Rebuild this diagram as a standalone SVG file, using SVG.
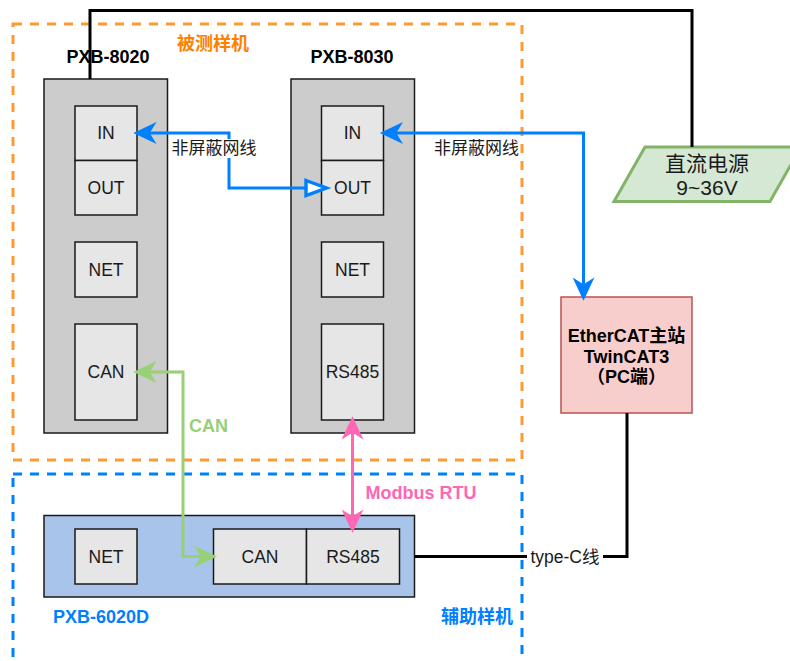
<svg xmlns="http://www.w3.org/2000/svg" width="790" height="661" viewBox="0 0 790 661">
<style>
text{font-family:"Liberation Sans","Noto Sans CJK SC",sans-serif;dominant-baseline:central}
.port{fill:#E6E6E6;stroke:#1a1a1a;stroke-width:1.5}
.pt{font-size:17.5px;text-anchor:middle;fill:#1a1a1a}
.dev{fill:#CCCCCC;stroke:#1a1a1a;stroke-width:1.5}
.bl{font-size:18px;font-weight:bold}
.c{text-anchor:middle}
.eth{fill:none;stroke:#007FFF;stroke-width:3}
.blk{fill:none;stroke:#000;stroke-width:3}
</style>
<defs>
<marker id="aBlue" markerUnits="userSpaceOnUse" markerWidth="30" markerHeight="30" viewBox="-10 -10 22 20" refX="0" refY="0" orient="auto-start-reverse"><path d="M10,0 L-7,-8 L-2,0 L-7,8 Z" fill="#007FFF"/></marker>
<marker id="aBlueOpen" markerUnits="userSpaceOnUse" markerWidth="30" markerHeight="30" viewBox="-3 -9 22 18" refX="0" refY="0" orient="auto"><path d="M0,-5.5 L15,0 L0,5.5 Z" fill="#fff" stroke="#007FFF" stroke-width="2.5"/></marker>
<marker id="aGreen" markerUnits="userSpaceOnUse" markerWidth="30" markerHeight="30" viewBox="-10 -10 22 20" refX="0" refY="0" orient="auto-start-reverse"><path d="M10,0 L-7,-8 L-2,0 L-7,8 Z" fill="#97D077"/></marker>
<marker id="aPink" markerUnits="userSpaceOnUse" markerWidth="30" markerHeight="30" viewBox="-10 -10 22 20" refX="0" refY="0" orient="auto-start-reverse"><path d="M10,0 L-7,-8 L-2,0 L-7,8 Z" fill="#FF66B3"/></marker>
</defs>

<g id="group-dut">
<rect x="13" y="24" width="509" height="436" fill="none" stroke="#FF9933" stroke-width="3" stroke-dasharray="9 8"/>
<text class="bl c" x="213" y="44" fill="#FF8000">被测样机</text>
</g>
<g id="group-aux">
<rect x="13" y="474" width="509" height="220" fill="none" stroke="#007FFF" stroke-width="3" stroke-dasharray="9 8"/>
<text class="bl" x="513" y="617" fill="#007FFF" text-anchor="end">辅助样机</text>
</g>

<g id="pxb8020">
<text class="bl c" x="108" y="57" fill="#000">PXB-8020</text>
<rect class="dev" x="44" y="79" width="123.5" height="354"/>
<rect class="port" x="75" y="106" width="62" height="54.5"/><text class="pt" x="106" y="133">IN</text>
<rect class="port" x="75" y="160.5" width="62" height="54.5"/><text class="pt" x="106" y="188">OUT</text>
<rect class="port" x="75" y="242" width="62" height="55"/><text class="pt" x="106" y="269.5">NET</text>
<rect class="port" x="75" y="324" width="62" height="96"/><text class="pt" x="106" y="372">CAN</text>
</g>

<g id="pxb8030">
<text class="bl c" x="352" y="57" fill="#000">PXB-8030</text>
<rect class="dev" x="291" y="79" width="123.5" height="354"/>
<rect class="port" x="321.5" y="106" width="62" height="54.5"/><text class="pt" x="352.5" y="133">IN</text>
<rect class="port" x="321.5" y="160.5" width="62" height="54.5"/><text class="pt" x="352.5" y="188">OUT</text>
<rect class="port" x="321.5" y="242" width="62" height="55"/><text class="pt" x="352.5" y="269.5">NET</text>
<rect class="port" x="321.5" y="324" width="62" height="96"/><text class="pt" x="352.5" y="372">RS485</text>
</g>

<g id="power">
<polygon points="645,147 801,147 770,201.5 614,201.5" fill="#D5E8D4" stroke="#82B366" stroke-width="3"/>
<text class="c" x="707" y="163" font-size="21" fill="#1a1a1a">直流电源</text>
<text class="c" x="707" y="187" font-size="21" fill="#1a1a1a">9~36V</text>
</g>

<g id="ethercat">
<rect x="561" y="297" width="131" height="116" fill="#F8CECC" stroke="#B85450" stroke-width="1.5"/>
<text class="bl c" x="626.5" y="336" fill="#000">EtherCAT主站</text>
<text class="bl c" x="626.5" y="356.5" fill="#000">TwinCAT3</text>
<text class="bl c" x="626.5" y="377" fill="#000">（PC端）</text>
</g>

<g id="pxb6020d">
<rect x="44" y="515.5" width="370.5" height="81.5" fill="#A9C4EB" stroke="#1a1a1a" stroke-width="1.5"/>
<rect class="port" x="75" y="529" width="62" height="55"/><text class="pt" x="106" y="556.5">NET</text>
<rect class="port" x="213.5" y="529" width="93" height="55"/><text class="pt" x="260" y="556.5">CAN</text>
<rect class="port" x="306.5" y="529" width="93" height="55"/><text class="pt" x="353" y="556.5">RS485</text>
<text class="bl" x="53" y="617" fill="#007FFF">PXB-6020D</text>
</g>

<g id="connectors">
<path class="blk" d="M90,79 V10.5 H692 V147"/>
<path class="eth" d="M147,133 H229 V188 H306" marker-start="url(#aBlue)" marker-end="url(#aBlueOpen)"/>
<rect x="171" y="139" width="86" height="19" fill="#fff"/>
<text x="214" y="148" font-size="17" class="c" fill="#1a1a1a">非屏蔽网线</text>
<path class="eth" d="M393.5,133 H583.5 V287" marker-start="url(#aBlue)" marker-end="url(#aBlue)"/>
<text x="476.5" y="148" font-size="17" class="c" fill="#1a1a1a">非屏蔽网线</text>
<path d="M147,372 H183 V556.5 H203.5" fill="none" stroke="#97D077" stroke-width="3" marker-start="url(#aGreen)" marker-end="url(#aGreen)"/>
<text class="bl" x="189" y="426" fill="#97D077">CAN</text>
<path d="M352.5,430 V519" fill="none" stroke="#FF66B3" stroke-width="3" marker-start="url(#aPink)" marker-end="url(#aPink)"/>
<text class="bl" x="365.5" y="493" fill="#FF66B3">Modbus RTU</text>
<path class="blk" d="M414.5,556.5 H627 V413"/>
<rect x="527" y="547" width="76" height="20" fill="#fff"/>
<text x="565" y="557" font-size="17.5" class="c" fill="#1a1a1a">type-C线</text>
</g>
</svg>
